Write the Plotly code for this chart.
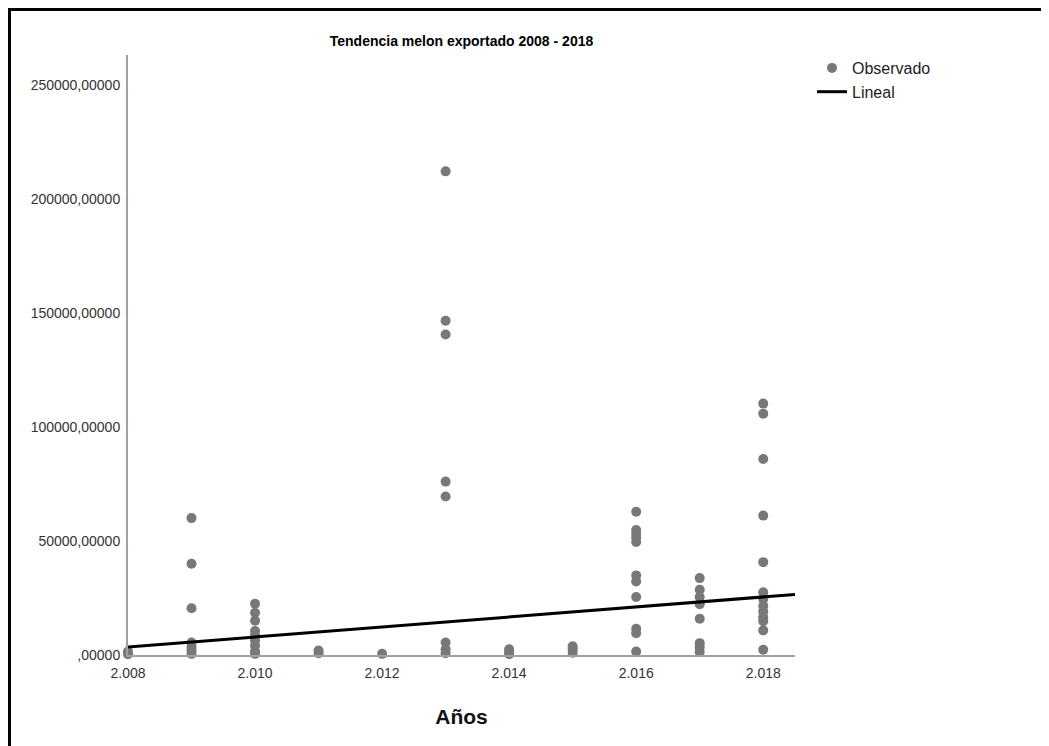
import plotly.graph_objects as go

# ---- data ----
years_2008 = [2008, 2008]
vals_2008 = [1500, 300]
years_2009 = [2009] * 7
vals_2009 = [60000, 40000, 20500, 5500, 3500, 2000, 500]
years_2010 = [2010] * 9
vals_2010 = [22500, 18500, 15000, 10500, 8500, 6500, 4000, 1500, 500]
years_2011 = [2011] * 2
vals_2011 = [2000, 800]
years_2012 = [2012]
vals_2012 = [500]
years_2013 = [2013] * 8
vals_2013 = [212000, 146500, 140500, 76000, 69500, 5500, 2500, 800]
years_2014 = [2014] * 3
vals_2014 = [2500, 1200, 400]
years_2015 = [2015] * 3
vals_2015 = [3800, 2500, 1000]
years_2016 = [2016] * 11
vals_2016 = [62800, 54800, 53000, 51500, 49500, 34900, 32200, 25400, 11500, 9500, 1500]
years_2017 = [2017] * 8
vals_2017 = [33700, 28600, 25400, 22300, 15900, 5200, 3400, 1300]
years_2018 = [2018] * 12
vals_2018 = [110200, 105800, 85900, 61100, 40700, 27500, 24500, 21500, 19000, 16500, 14800, 10800]
years_2018b = [2018]
vals_2018b = [2300]

trend_x = [2008, 2018.5]
trend_y = [3500, 26550]

y_tickvals = [0, 50000, 100000, 150000, 200000, 250000]
y_ticktext = [",00000", "50000,00000", "100000,00000", "150000,00000", "200000,00000", "250000,00000"]
x_tickvals = [2008, 2010, 2012, 2014, 2016, 2018]
x_ticktext = ["2.008", "2.010", "2.012", "2.014", "2.016", "2.018"]

title_text = "Tendencia melon exportado 2008 - 2018"
x_title = "Años"

obs_x = (years_2008 + years_2009 + years_2010 + years_2011 + years_2012 + years_2013
         + years_2014 + years_2015 + years_2016 + years_2017 + years_2018 + years_2018b)
obs_y = (vals_2008 + vals_2009 + vals_2010 + vals_2011 + vals_2012 + vals_2013
         + vals_2014 + vals_2015 + vals_2016 + vals_2017 + vals_2018 + vals_2018b)

FONT = "Liberation Sans, Arial, sans-serif"

fig = go.Figure()
fig.add_trace(go.Scatter(
    x=obs_x, y=obs_y, mode="markers", name="Observado",
    marker=dict(size=10, color="#787878", line=dict(width=0)),
    cliponaxis=False,
))
fig.add_trace(go.Scatter(
    x=trend_x, y=trend_y, mode="lines", name="Lineal",
    line=dict(color="black", width=3),
))

# page has an 8px body margin; work in reference-window pixel coordinates
OFF = 8
W, H = 1049 - OFF, 746 - OFF
plot_left, plot_right, plot_top, plot_bottom = 128, 795, 55, 655
L = plot_left - OFF
R = W - (plot_right - OFF)
T = plot_top - OFF
B = H - (plot_bottom - OFF)
pw, ph = plot_right - plot_left, plot_bottom - plot_top

def px_x(p):
    return (p - plot_left) / pw

def px_y(p):
    return (plot_bottom - p) / ph

fig.update_layout(
    width=W, height=H,
    margin=dict(l=L, r=R, t=T, b=B, pad=0),
    paper_bgcolor="white", plot_bgcolor="white",
    title=dict(text=title_text, x=0.5, xref="paper", xanchor="center",
               y=1 - (41 - OFF) / H, yref="container", yanchor="middle",
               font=dict(family=FONT, size=14, color="black", weight="bold")),
    showlegend=True,
    legend=dict(x=px_x(812), y=px_y(51), xanchor="left", yanchor="top",
                font=dict(family=FONT, size=16, color="#222"),
                bgcolor="rgba(0,0,0,0)", borderwidth=0, tracegroupgap=0,
                itemwidth=30),
    font=dict(family=FONT),
    shapes=[
        dict(type="line", xref="paper", yref="paper",
             x0=px_x(9.5), x1=px_x(9.5), y0=px_y(8), y1=px_y(760),
             line=dict(color="black", width=3)),
        dict(type="line", xref="paper", yref="paper",
             x0=px_x(8), x1=px_x(1060), y0=px_y(9.5), y1=px_y(9.5),
             line=dict(color="black", width=3)),
    ],
)
fig.update_xaxes(
    range=[2008, 2018.5], tickvals=x_tickvals, ticktext=x_ticktext,
    showgrid=False, zeroline=False, showline=True, linecolor="#a0a0a0", linewidth=2,
    ticks="", ticklabelstandoff=4, tickfont=dict(family=FONT, size=14, color="#333"),
    title=dict(text=x_title, font=dict(family=FONT, size=21, color="#111", weight="bold"),
               standoff=30),
)
fig.update_yaxes(
    range=[0, 263000], tickvals=y_tickvals, ticktext=y_ticktext,
    showgrid=False, zeroline=False, showline=True, linecolor="#a0a0a0", linewidth=2,
    ticks="outside", ticklen=3, tickcolor="rgba(0,0,0,0)",
    tickfont=dict(family=FONT, size=14, color="#333"),
)

fig.write_html("out.html")
